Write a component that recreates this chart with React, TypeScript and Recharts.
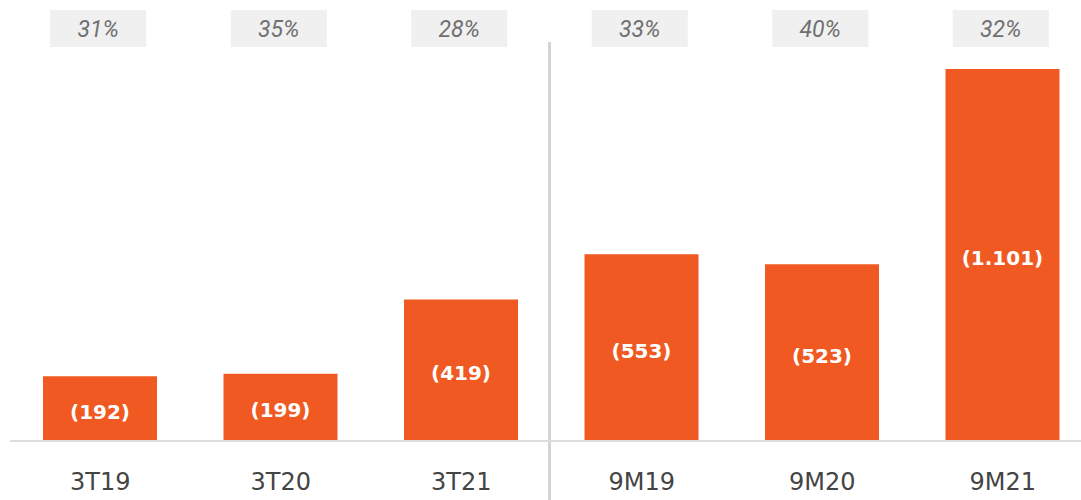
import * as React from "react";
import { BarChart, Bar, XAxis, YAxis, ReferenceLine, LabelList } from "recharts";

const periods = ["3T19", "3T20", "3T21", "9M19", "9M20", "9M21"];
const values = [192, 199, 419, 553, 523, 1101];
const margins = ["31%", "35%", "28%", "33%", "40%", "32%"];

const data = periods.map((name, i) => ({ name, value: values[i] }));

const ORANGE = "#F05A22";

const fmt = (v: number) => "(" + v.toLocaleString("pt-BR") + ")";

function MarginTick(props: any) {
  const { x, y, payload } = props;
  const label = margins[payload.index];
  return (
    <g>
      <rect x={x - 50} y={y - 59} width={96} height={37} fill="#f0f0f0" />
      <text
        x={x - 2}
        y={y - 32}
        textAnchor="middle"
        fill="#707070"
        fontSize={23}
        fontStyle="italic"
        fontFamily="Roboto, sans-serif"
      >
        {label}
      </text>
    </g>
  );
}

export default function App() {
  return (
    <div
      style={{
        position: "absolute",
        left: 0,
        top: 0,
        width: 1081,
        height: 500,
        overflow: "hidden",
        background: "#fff",
      }}
    >
      <BarChart
        width={1100}
        height={500}
        data={data}
        margin={{ top: 9, right: 7, left: 10, bottom: 9 }}
        barSize={114}
      >
        <XAxis
          xAxisId="top"
          orientation="top"
          dataKey="name"
          height={60}
          axisLine={false}
          tickLine={false}
          tickSize={0}
          tickMargin={0}
          tick={<MarginTick />}
          interval={0}
        />
        <XAxis
          dataKey="name"
          height={50}
          axisLine={{ stroke: "#dcdcdc", strokeWidth: 2 }}
          tickLine={false}
          tickMargin={26}
          interval={0}
          tick={{ fill: "#444", fontSize: 24, fontFamily: "DejaVu Sans, sans-serif" }}
        />
        <YAxis hide domain={[0, 1101]} />
        <ReferenceLine
          segment={[
            { x: "9M19", y: -180 },
            { x: "9M19", y: 1181 },
          ]}
          position="start"
          stroke="#d2d6d2"
          strokeWidth={3}
          ifOverflow="visible"
          transform="translate(-2, 0)"
        />
        <Bar dataKey="value" fill={ORANGE} isAnimationActive={false}>
          <LabelList
            dataKey="value"
            position="center"
            formatter={(v: any) => fmt(Number(v))}
            fill="#fff"
            fontSize={20}
            fontWeight="bold"
            fontFamily="DejaVu Sans, sans-serif"
            dy={3}
          />
        </Bar>
      </BarChart>
    </div>
  );
}
